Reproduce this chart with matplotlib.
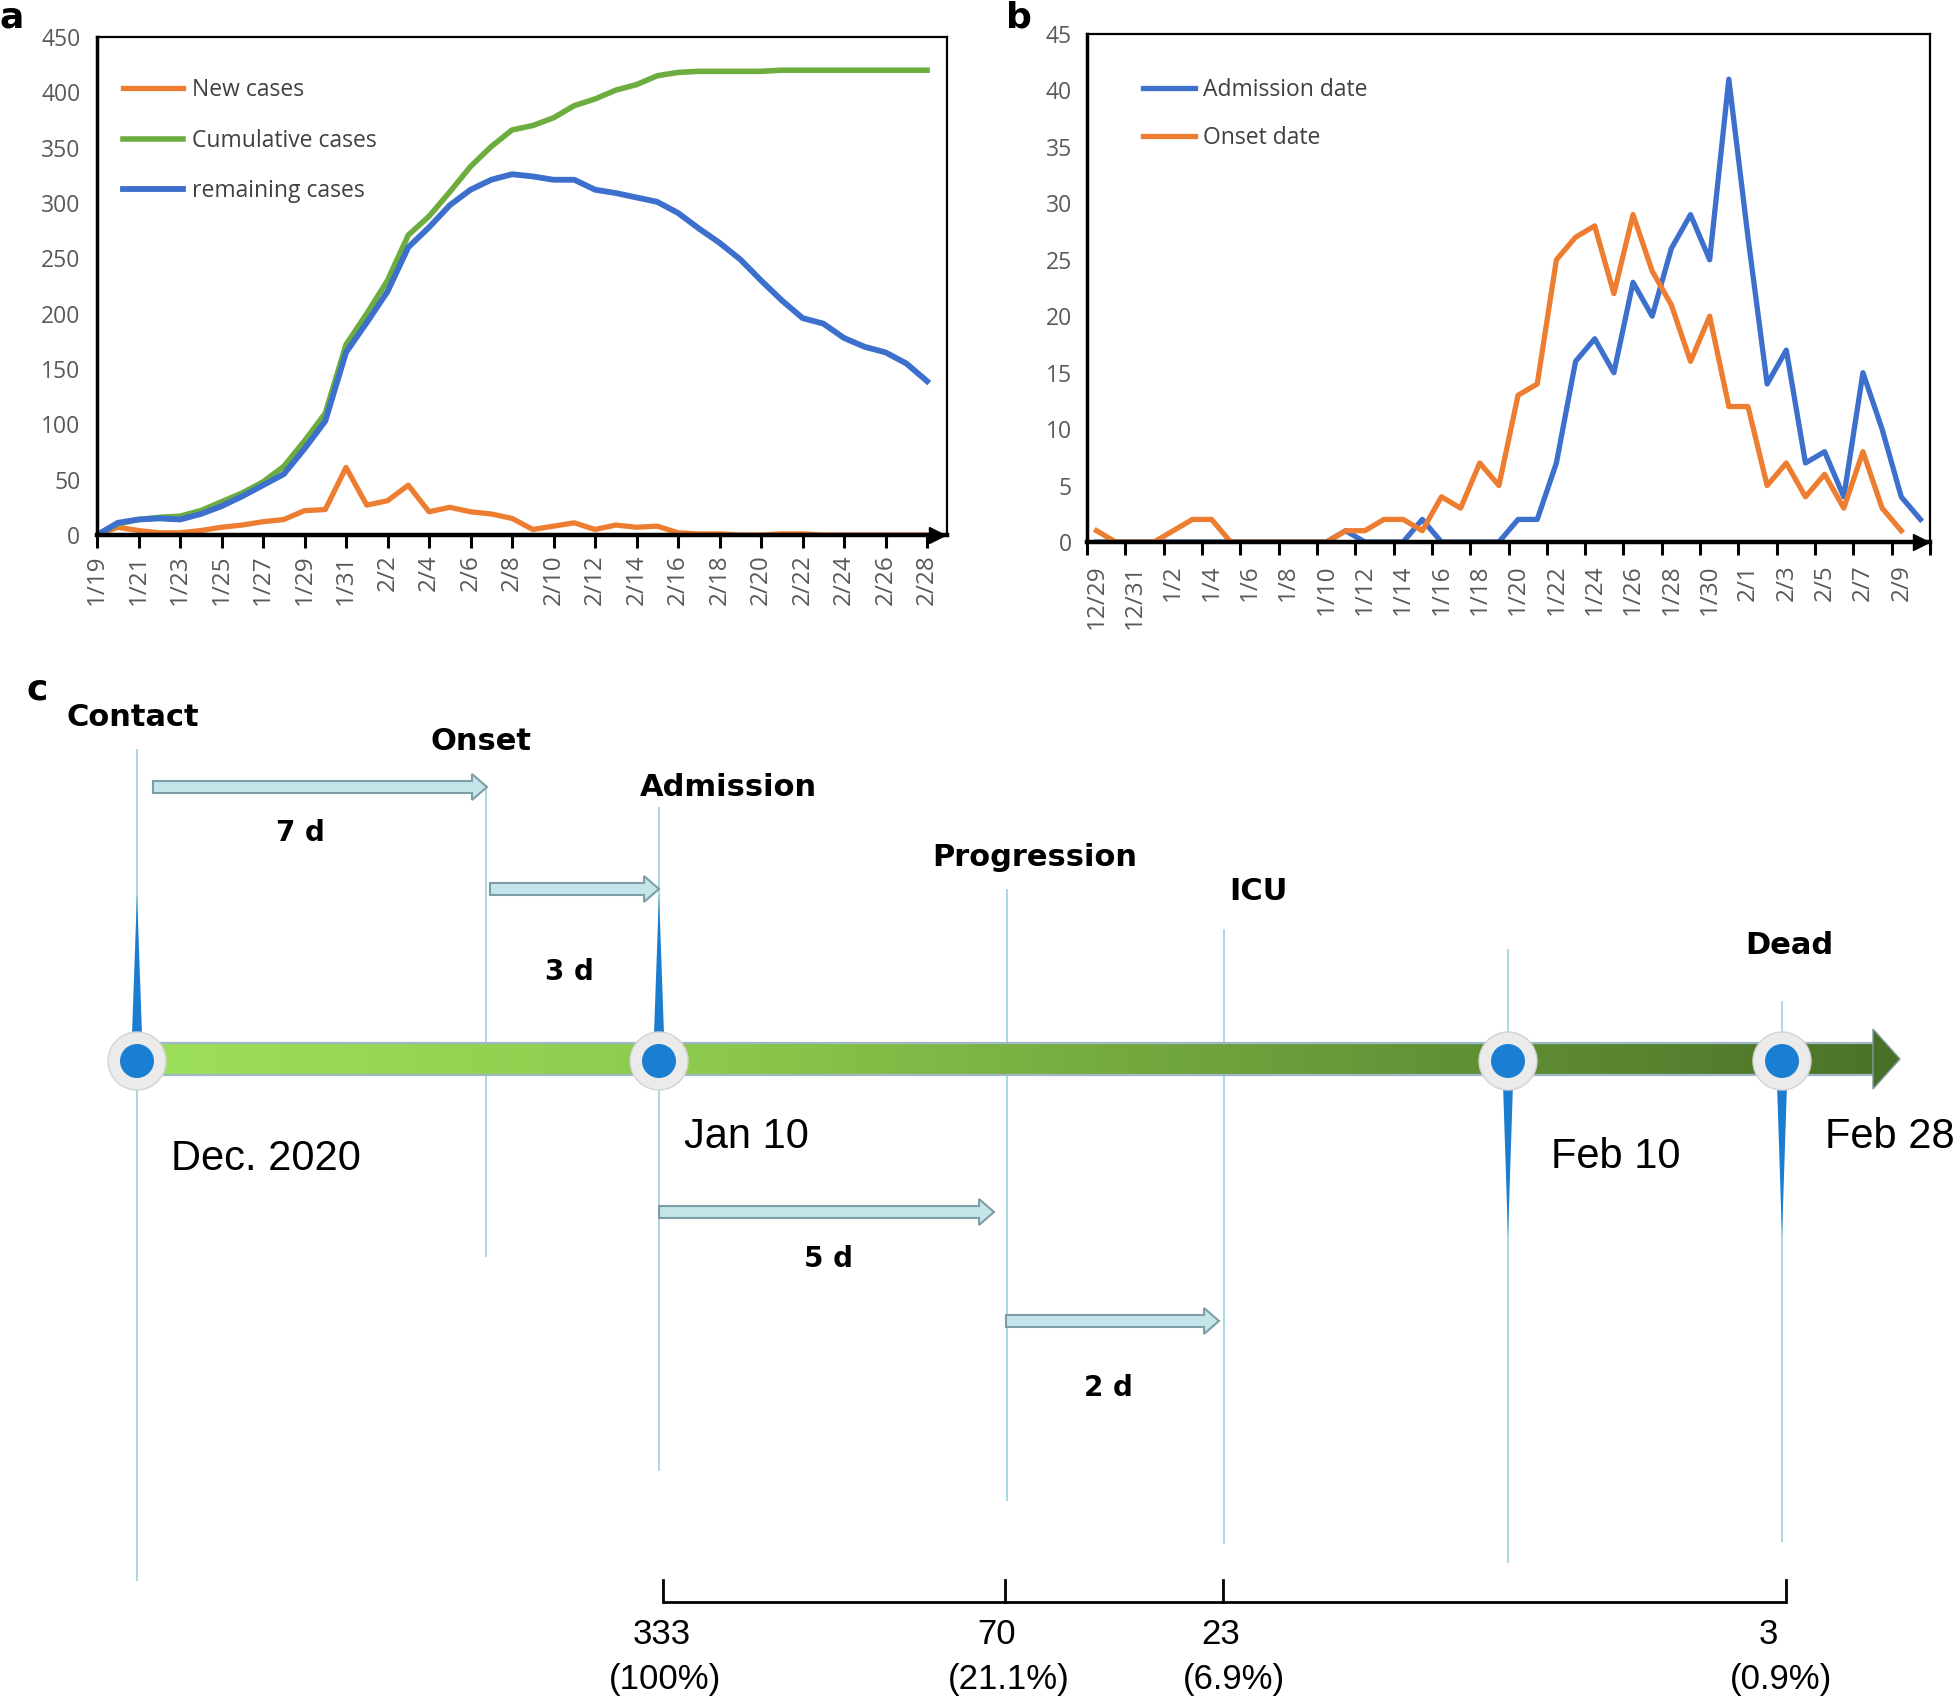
import numpy as np
import pandas as pd
import matplotlib
matplotlib.use("Agg")
import matplotlib.pyplot as plt
import matplotlib.patches as mpatches
from matplotlib.colors import LinearSegmentedColormap

plt.rcParams['font.family'] = ['Open Sans', 'DejaVu Sans']

# ---------------- panel a data: 1/19 - 2/28
dates_a = pd.date_range("2020-01-19", "2020-02-28")
labels_a = ["{}/{}".format(d.month, d.day) for d in dates_a]
new_cases = [0, 7, 4, 2, 2, 4, 7, 9, 12, 14, 22, 23, 61,
             27, 31, 45, 21, 25, 21, 19, 15, 5, 8, 11, 5, 9, 7, 8,
             2, 1, 1, 0, 0, 1, 1, 0, 0, 0, 0, 0, 0]
cumulative_cases = [0, 10, 14, 16, 17, 22, 30, 38, 48, 62, 85, 110, 172,
                    200, 230, 271, 288, 310, 333, 351, 366, 370, 377, 388, 394, 402, 407, 415,
                    418, 419, 419, 419, 419, 420, 420, 420, 420, 420, 420, 420, 420]
remaining_cases = [0, 11, 14, 15, 14, 19, 26, 35, 45, 55, 78, 103, 165,
                   192, 220, 260, 278, 298, 312, 321, 326, 324, 321, 321, 312, 309, 305, 301,
                   291, 277, 264, 249, 230, 212, 196, 191, 178, 170, 165, 155, 139]

# ---------------- panel b data: 12/29 - 2/10
dates_b = pd.date_range("2019-12-29", "2020-02-10")
labels_b = ["{}/{}".format(d.month, d.day) for d in dates_b]
admission = [0, 0, 0, 0, 0, 0, 0, 0, 0, 0, 0, 0, 0, 1, 0, 0, 0, 2, 0, 0, 0, 0,
             2, 2, 7, 16, 18, 15, 23, 20, 26, 29, 25, 41, 27, 14, 17, 7, 8, 4, 15, 10, 4, 2]
onset = [1, 0, 0, 0, 1, 2, 2, 0, 0, 0, 0, 0, 0, 1, 1, 2, 2, 1, 4, 3, 7, 5,
         13, 14, 25, 27, 28, 22, 29, 24, 21, 16, 20, 12, 12, 5, 7, 4, 6, 3, 8, 3, 1]

# ---------------- panel c data
stages = ['Contact', 'Onset', 'Admission', 'Progression', 'ICU', 'Dead']
interval_days = [7, 3, 5, 2]
stage_counts = [333, 70, 23, 3]
stage_pct = ['100%', '21.1%', '6.9%', '0.9%']
timeline_dates = ['Dec. 2020', 'Jan 10', 'Feb 10', 'Feb 28']

ORANGE = '#ED7D31'
GREEN = '#6DAD40'
BLUE = '#3D6FCC'
TICKCOL = '#595959'

W, H = 1960, 1702
fig = plt.figure(figsize=(W / 100, H / 100), dpi=100)

# ================= panel c (pixel coordinate canvas)
ax_c = fig.add_axes([0, 0, 1, 1])
ax_c.set_xlim(0, W)
ax_c.set_ylim(H, 0)
ax_c.axis('off')

stage_x = dict(Contact=137, Onset=486, Admission=659, Progression=1007, ICU=1224, Feb10=1508, Dead=1782)
line_span = dict(Contact=(750, 1580), Onset=(787, 1256), Admission=(808, 1470), Progression=(890, 1500),
                 ICU=(930, 1543), Feb10=(950, 1562), Dead=(1002, 1541))
bar_y0, bar_y1, bar_end, tip_x = 1043, 1075, 1873, 1900
bar_mid = (bar_y0 + bar_y1) / 2

for k, (y0, y1) in line_span.items():
    ax_c.plot([stage_x[k], stage_x[k]], [y0, y1], color='#a9d8e2', lw=1.4, zorder=1)

cmap_bar = LinearSegmentedColormap.from_list('bar', ['#9de05a', '#8cc94c', '#6b9c3a', '#4c7429'])
grad = np.linspace(0, 1, 256).reshape(1, -1)
ax_c.imshow(grad, cmap=cmap_bar, extent=(stage_x['Contact'], bar_end, bar_y1, bar_y0),
            aspect='auto', zorder=2)
ax_c.plot([stage_x['Contact'], bar_end], [bar_y0, bar_y0], color='#9fb7c6', lw=1.6, zorder=3)
ax_c.plot([stage_x['Contact'], bar_end], [bar_y1, bar_y1], color='#9fb7c6', lw=1.6, zorder=3)
ax_c.add_patch(mpatches.Polygon([(bar_end, bar_mid - 30), (tip_x, bar_mid), (bar_end, bar_mid + 30)],
                                closed=True, fc='#4a7027', ec='#7f9aa3', lw=1, zorder=3))

# pins
for k in ['Contact', 'Admission', 'Feb10', 'Dead']:
    x = stage_x[k]
    if k in ('Contact', 'Admission'):
        spike = [(x, 893), (x - 5, bar_mid - 25), (x + 5, bar_mid - 25)]
    else:
        spike = [(x, 1237), (x - 5, bar_mid + 25), (x + 5, bar_mid + 25)]
    ax_c.add_patch(mpatches.Polygon(spike, closed=True, fc='#1b7dd0', ec='none', zorder=4))
    ax_c.add_patch(mpatches.Circle((x, bar_mid + 2), 29, fc='#ebebeb', ec='#d3d3d3', lw=1, zorder=5))
    ax_c.add_patch(mpatches.Circle((x, bar_mid + 2), 17, fc='#1a7fd3', ec='none', zorder=6))

# interval arrows
arrow_spec = [(153, 487, 787), (490, 659, 889), (659, 994, 1212), (1006, 1219, 1321)]
day_pos = [(300, 833), (569, 972), (828, 1259), (1108, 1388)]
for (x0, x1, y), (tx, ty), d in zip(arrow_spec, day_pos, interval_days):
    ax_c.add_patch(mpatches.FancyArrow(x0, y, x1 - x0, 0, width=12, head_width=26, head_length=15,
                                       length_includes_head=True, fc='#c4e5ea', ec='#7e9ea5',
                                       lw=1.5, zorder=3))
    ax_c.text(tx, ty, "{} d".format(d), ha='center', va='center', fontsize=20,
              fontweight='bold', family='DejaVu Sans')

stage_lbl = [(133, 717), (481, 742), (728, 788), (1035, 857), (1258, 892), (1789, 945)]
for s, (tx, ty) in zip(stages, stage_lbl):
    ax_c.text(tx, ty, s, ha='center', va='center', fontsize=22, fontweight='bold',
              family='DejaVu Sans')

date_lbl = [(266, 1159), (746, 1137), (1616, 1157), (1890, 1137)]
for s, (tx, ty) in zip(timeline_dates, date_lbl):
    ax_c.text(tx, ty, s, ha='center', va='center', fontsize=30, family='Liberation Sans')

# bracket with counts
bx = [stage_x['Admission'] + 4, stage_x['Progression'] - 2, stage_x['ICU'] - 1, stage_x['Dead'] + 4]
ax_c.plot([bx[0], bx[-1]], [1602, 1602], color='k', lw=2, solid_capstyle='butt')
for x in bx:
    ax_c.plot([x, x], [1580, 1602], color='k', lw=2)
count_x = [662, 997, 1221, 1768]
pct_x = [665, 1009, 1234, 1781]
for c, p, cx, px in zip(stage_counts, stage_pct, count_x, pct_x):
    ax_c.text(cx, 1634, str(c), ha='center', va='center', fontsize=25, family='Liberation Sans')
    ax_c.text(px, 1679, "({})".format(p), ha='center', va='center', fontsize=25, family='Liberation Sans')

# ================= panel a
ax_a = fig.add_axes([97 / W, 1 - 535 / H, 850 / W, 498 / H])
xa = np.arange(len(labels_a))
ax_a.plot(xa, new_cases, color=ORANGE, lw=3.8, label='New cases')
ax_a.plot(xa, cumulative_cases, color=GREEN, lw=4.0, label='Cumulative cases')
ax_a.plot(xa, remaining_cases, color=BLUE, lw=4.2, label='remaining cases')
ax_a.set_xlim(0, 40.96)
ax_a.set_ylim(0, 450)
ax_a.set_yticks(range(0, 451, 50))
ax_a.set_xticks(xa[::2])
ax_a.set_xticklabels(labels_a[::2], rotation=90)
ax_a.tick_params(axis='y', length=0, pad=12, labelsize=16.5, labelcolor=TICKCOL)
ax_a.tick_params(axis='x', length=9, width=2.2, pad=5, labelsize=17.5, labelcolor=TICKCOL)
ax_a.legend(loc='upper left', bbox_to_anchor=(0.0306, 0.918), frameon=False, borderpad=0,
            borderaxespad=0, handlelength=2.6, handletextpad=0.4, labelspacing=1.17,
            fontsize=16.5, labelcolor='#404040')

# ================= panel b
ax_b = fig.add_axes([1087 / W, 1 - 542 / H, 843 / W, 508 / H])
xb = np.arange(len(labels_b)) + 0.5
ax_b.plot(xb[:len(admission)], admission, color=BLUE, lw=3.8, label='Admission date')
ax_b.plot(xb[:len(onset)], onset, color=ORANGE, lw=3.8, label='Onset date')
ax_b.set_xlim(0, len(labels_b))
ax_b.set_ylim(0, 45)
ax_b.set_yticks(range(0, 46, 5))
ax_b.set_xticks(np.arange(0, len(labels_b) + 1, 2))
ax_b.set_xticklabels([])
ax_b.set_xticks(xb[::2], minor=True)
ax_b.set_xticklabels(labels_b[::2], minor=True, rotation=90)
ax_b.tick_params(axis='y', length=0, pad=11, labelsize=16.5, labelcolor=TICKCOL)
ax_b.tick_params(axis='x', which='major', length=9, width=2.2)
ax_b.tick_params(axis='x', which='minor', length=0, pad=16, labelsize=17.5, labelcolor=TICKCOL)
ax_b.legend(loc='upper left', bbox_to_anchor=(0.066, 0.913), frameon=False, borderpad=0,
            borderaxespad=0, handlelength=2.3, handletextpad=0.35, labelspacing=1.06,
            fontsize=16.5, labelcolor='#404040')

for ax, xr in ((ax_a, 0.988), (ax_b, 0.989)):
    ax.spines['left'].set_linewidth(2.5)
    ax.spines['bottom'].set_linewidth(3.2)
    ax.spines['top'].set_linewidth(1.6)
    ax.spines['right'].set_linewidth(1.6)
    ax.plot([xr], [0], marker='>', ms=12, color='k', transform=ax.transAxes, clip_on=False)

fig.text(12 / W, 1 - 18 / H, 'a', ha='center', va='center', fontsize=26, fontweight='bold', family='DejaVu Sans')
fig.text(1019 / W, 1 - 18 / H, 'b', ha='center', va='center', fontsize=26, fontweight='bold', family='DejaVu Sans')
fig.text(37 / W, 1 - 689 / H, 'c', ha='center', va='center', fontsize=26, fontweight='bold', family='DejaVu Sans')

fig.savefig('out.png', dpi=100)
